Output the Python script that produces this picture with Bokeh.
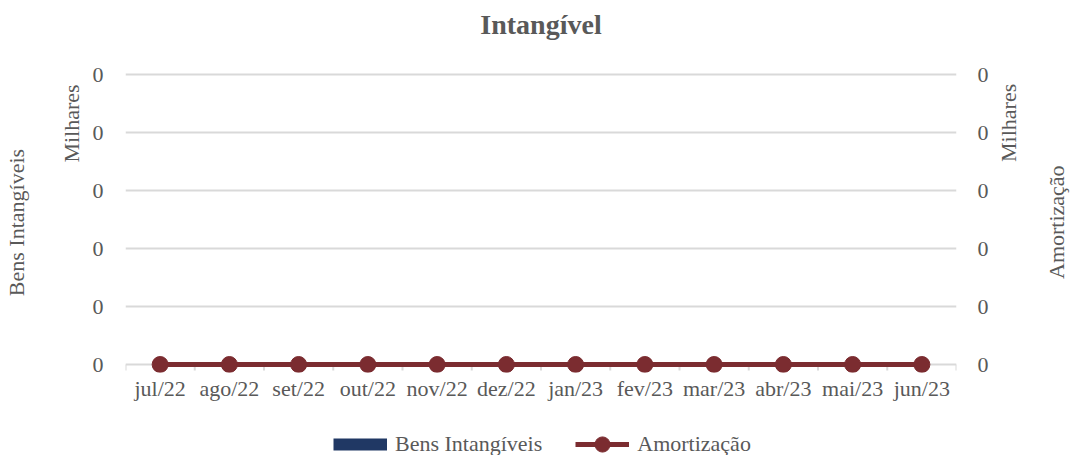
from bokeh.plotting import figure
from bokeh.layouts import column
from bokeh.models import (Range1d, LinearAxis, FixedTicker, Legend, LegendItem)
from bokeh.embed import file_html
from bokeh.resources import INLINE

# ---- data ----
months = ["jul/22", "ago/22", "set/22", "out/22", "nov/22", "dez/22",
          "jan/23", "fev/23", "mar/23", "abr/23", "mai/23", "jun/23"]
bens_intangiveis = [0, 0, 0, 0, 0, 0, 0, 0, 0, 0, 0, 0]
amortizacao = [0, 0, 0, 0, 0, 0, 0, 0, 0, 0, 0, 0]
y_ticks = [0, 1, 2, 3, 4, 5]
y_tick_labels = ["0", "0", "0", "0", "0", "0"]

FONT = "Liberation Serif"
GRAY = "#595959"
GRID = "#D9D9D9"
BLUE = "#203864"
RED = "#7B2C30"
FS = "22px"
HALF_PI = 1.5707963267948966
NB = "\u00a0"

PX = 58.0  # pixels per y unit (layout)
x = list(range(len(months)))
boundaries = [i - 0.5 for i in range(len(months) + 1)]

p = figure(frame_width=831, frame_height=300, output_backend="svg", toolbar_location=None,
           x_range=Range1d(-0.5, len(months) - 0.5),
           y_range=Range1d(-8 / PX, 5 + 2 / PX),
           min_border_left=124, min_border_right=115, min_border_top=72,
           min_border_bottom=58)
p.outline_line_color = None
p.background_fill_color = "white"
p.border_fill_color = "white"

p.title.text = "Intangível"
p.title.align = "center"
p.title.text_font = FONT
p.title.text_font_size = "28px"
p.title.text_font_style = "bold"
p.title.text_color = GRAY
p.title.standoff = 0

# y grid (the 0 line doubles as the category axis line)
p.ygrid.ticker = FixedTicker(ticks=y_ticks)
p.ygrid.grid_line_color = GRID
p.ygrid.grid_line_width = 2
p.xgrid.grid_line_color = None

# category tick marks between months
p.segment(x0=boundaries, x1=boundaries, y0=[0] * len(boundaries),
          y1=[-6 / PX] * len(boundaries), line_color=GRID, line_width=2)

bars = p.vbar(x=x, top=bens_intangiveis, width=0.5, fill_color=BLUE, line_color=None)
ln = p.line(x, amortizacao, line_width=5, line_color=RED)
sc = p.scatter(x, amortizacao, size=16, fill_color=RED, line_color=RED)

# x axis
xa = p.xaxis[0]
xa.ticker = FixedTicker(ticks=x)
xa.major_label_overrides = {i: m for i, m in enumerate(months)}
xa.major_tick_line_color = None
xa.minor_tick_line_color = None
xa.major_tick_out = 0
xa.major_tick_in = 0
xa.axis_line_color = None
xa.major_label_text_font = FONT
xa.major_label_text_font_size = FS
xa.major_label_text_color = GRAY
xa.major_label_standoff = 3


def blank_axis(lab_standoff, font_size):
    ax = LinearAxis()
    ax.ticker = FixedTicker(ticks=[])
    ax.axis_line_color = None
    ax.major_tick_line_color = None
    ax.minor_tick_line_color = None
    ax.major_label_text_font_size = "0px"
    ax.axis_label = " "
    ax.axis_label_text_font = FONT
    ax.axis_label_text_font_size = font_size
    ax.axis_label_text_alpha = 0
    ax.axis_label_standoff = lab_standoff
    return ax


p.add_layout(blank_axis(5, FS), "above")


def style_value_axis(ax, label, standoff, lab_standoff):
    ax.ticker = FixedTicker(ticks=y_ticks)
    ax.major_label_overrides = {t: l for t, l in zip(y_ticks, y_tick_labels)}
    ax.axis_line_color = None
    ax.major_tick_line_color = None
    ax.minor_tick_line_color = None
    ax.major_tick_out = 0
    ax.major_tick_in = 0
    ax.major_label_text_font = FONT
    ax.major_label_text_font_size = FS
    ax.major_label_text_color = GRAY
    ax.major_label_standoff = standoff
    ax.axis_label = label
    ax.axis_label_text_font = FONT
    ax.axis_label_text_font_size = FS
    ax.axis_label_text_font_style = "normal"
    ax.axis_label_text_color = GRAY
    ax.axis_label_standoff = lab_standoff


def style_title_axis(ax, label, lab_standoff):
    ax.ticker = FixedTicker(ticks=[])
    ax.axis_line_color = None
    ax.major_tick_line_color = None
    ax.minor_tick_line_color = None
    ax.major_label_text_font_size = "0px"
    ax.axis_label = label
    ax.axis_label_text_font = FONT
    ax.axis_label_text_font_size = FS
    ax.axis_label_text_font_style = "normal"
    ax.axis_label_text_color = GRAY
    ax.axis_label_standoff = lab_standoff


ya = p.yaxis[0]
style_value_axis(ya, NB * 36 + "Milhares", 22, 6)
ya.axis_label_align = "center"
outer_left = LinearAxis()
style_title_axis(outer_left, "Bens Intangíveis", 27)
p.add_layout(outer_left, "left")

ra = LinearAxis()
style_value_axis(ra, NB * 11 + "Milhares", 21, 17)
ra.axis_label_orientation = HALF_PI
ra.axis_label_align = "center"
p.add_layout(ra, "right")
outer_right = LinearAxis()
style_title_axis(outer_right, NB * 17 + "Amortização", 20)
outer_right.axis_label_orientation = HALF_PI
outer_right.axis_label_align = "start"
p.add_layout(outer_right, "right")

# ---- legend strip below the chart ----
lf = figure(frame_width=1070, frame_height=25, output_backend="svg", toolbar_location=None,
            x_axis_type=None, y_axis_type=None, x_range=Range1d(0, 1), y_range=Range1d(0, 1),
            min_border_left=0, min_border_right=0, min_border_top=0, min_border_bottom=0)
lf.outline_line_color = None
lf.grid.grid_line_color = None
lf.background_fill_color = "white"
lf.border_fill_color = "white"
nan_y = [float("nan")] * len(x)
sw_bar = lf.line(x, nan_y, line_width=12, line_color=BLUE, line_cap="butt")
sw_line = lf.line(x, nan_y, line_width=5, line_color=RED)
sw_dot = lf.scatter(x, nan_y, size=16, fill_color=RED, line_color=RED)

legend = Legend(items=[LegendItem(label="Bens Intangíveis", renderers=[sw_bar]),
                       LegendItem(label="Amortização", renderers=[sw_line, sw_dot])],
                orientation="horizontal", location=(333, -8))
legend.label_text_font = FONT
legend.label_text_font_size = FS
legend.label_text_color = GRAY
legend.glyph_width = 54
legend.glyph_height = 38
legend.label_standoff = 8
legend.spacing = 33
legend.padding = 0
legend.margin = 0
legend.border_line_color = None
legend.background_fill_alpha = 0
lf.add_layout(legend)

layout = column(p, lf, spacing=0)
open("out.html", "w").write(file_html(layout, INLINE))
